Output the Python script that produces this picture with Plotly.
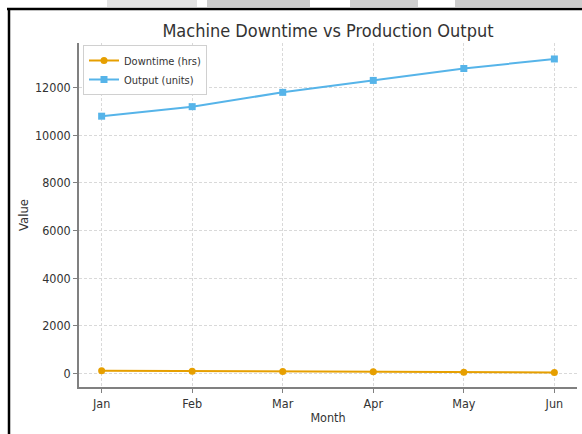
import plotly.graph_objects as go

# Monthly production data
months = ["Jan", "Feb", "Mar", "Apr", "May", "Jun"]
downtime_hrs = [120, 100, 90, 80, 60, 50]
output_units = [10800, 11200, 11800, 12300, 12800, 13200]
y_ticks = [0, 2000, 4000, 6000, 8000, 10000, 12000]

W, H = 582, 434
ML, MR, MT, MB = 79, 5, 43, 47
PW, PH = W - ML - MR, H - MT - MB

ORANGE = "#E69F00"
BLUE = "#56B4E9"
FONT = "DejaVu Sans Condensed, DejaVu Sans, sans-serif"
TEXT = "#333333"


def px_x(p):
    return (p - ML) / PW


def px_y(p):
    return (H - MB - p) / PH


fig = go.Figure()
fig.add_trace(go.Scatter(
    x=months, y=downtime_hrs, name="Downtime (hrs)", mode="lines+markers",
    line=dict(color=ORANGE, width=2), marker=dict(symbol="circle", size=7, color=ORANGE),
))
fig.add_trace(go.Scatter(
    x=months, y=output_units, name="Output (units)", mode="lines+markers",
    line=dict(color=BLUE, width=2), marker=dict(symbol="square", size=7, color=BLUE),
))

axis_common = dict(
    showline=True, linecolor="#808080", linewidth=1.5,
    ticks="outside", ticklen=4, tickcolor="#808080", tickwidth=1,
    showgrid=True, gridcolor="#d9d9d9", gridwidth=0.8, griddash="3px,2px",
    zeroline=False, tickfont=dict(family=FONT, size=12.5, color=TEXT),
    mirror=False,
)

fig.update_xaxes(
    **axis_common, range=[-0.25, 5.25],
    title=dict(text="Month", font=dict(family=FONT, size=12.5, color=TEXT), standoff=3),
)
fig.update_yaxes(
    **axis_common, range=[-560, 13870], tickvals=y_ticks,
    tickformat="d",
    title=dict(text="Value", font=dict(family=FONT, size=13, color=TEXT), standoff=3),
)

# Window chrome around the chart: black frame lines and a grey strip above
shapes = [
    dict(type="line", xref="paper", yref="paper",
         x0=px_x(7), x1=px_x(W + 2), y0=px_y(9), y1=px_y(9),
         line=dict(color="black", width=2.5), layer="above"),
    dict(type="line", xref="paper", yref="paper",
         x0=px_x(9), x1=px_x(9), y0=px_y(8), y1=px_y(H + 2),
         line=dict(color="black", width=2.5), layer="above"),
]
for (a, b, c) in [(107, 197, "#e2e2e2"), (207, 310, "#cdcdcd"), (350, 418, "#cfcfcf"), (455, 582, "#cdcdcd")]:
    shapes.append(dict(type="rect", xref="paper", yref="paper",
                       x0=px_x(a), x1=px_x(b), y0=px_y(7), y1=px_y(0),
                       line=dict(width=0), fillcolor=c, layer="above"))

fig.update_layout(
    width=W, height=H,
    margin=dict(l=ML, r=MR, t=MT, b=MB),
    paper_bgcolor="white", plot_bgcolor="white",
    title=dict(text="Machine Downtime vs Production Output", x=0.5, xref="paper",
               y=1 - 31 / H, yanchor="middle",
               font=dict(family=FONT, size=18, color=TEXT)),
    legend=dict(x=px_x(83), y=px_y(45), xanchor="left", yanchor="top",
                bgcolor="white", bordercolor="#d0d0d0", borderwidth=1,
                font=dict(family=FONT, size=11, color=TEXT),
                itemwidth=30, tracegroupgap=0),
    shapes=shapes,
    showlegend=True,
)

fig.write_html("out.html")
